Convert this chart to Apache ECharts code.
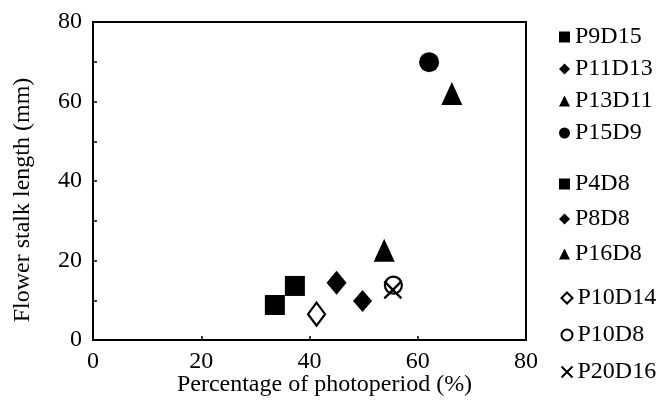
<!DOCTYPE html>
<html>
<head>
<meta charset="utf-8">
<script src="https://cdn.jsdelivr.net/npm/echarts@6/dist/echarts.min.js"></script>
<style>
  html, body { margin: 0; padding: 0; background: #fff; }
  #chart { width: 657px; height: 400px; }
</style>
</head>
<body>
<div id="chart"></div>
<script>
// treatments (photoperiod / dark period)
var names = ['P9D15', 'P11D13', 'P13D11', 'P15D9', 'P4D8', 'P8D8', 'P16D8', 'P10D14', 'P10D8', 'P20D16']
var photoperiodPct = [37.3, 45.0, 53.8, 62.1, 33.6, 49.8, 66.3, 41.3, 55.5, 55.4]
var stalkLength = [13.6, 14.4, 22.6, 69.9, 8.8, 9.8, 62.0, 6.5, 13.8, 12.6]
var xTicks = [0, 20, 40, 60, 80]
var yTicks = [0, 20, 40, 60, 80]

var font = 'Liberation Serif'
var cross = 'path://M0,0L10,10M10,0L0,10'

// marker look for each treatment
var markers = {
  P9D15: { symbol: 'rect', size: 20 },
  P11D13: { symbol: 'diamond', size: [20, 24] },
  P13D11: { symbol: 'triangle', size: [21, 23] },
  P15D9: { symbol: 'circle', size: 20 },
  P4D8: { symbol: 'rect', size: 20 },
  P8D8: { symbol: 'diamond', size: [19, 22] },
  P16D8: { symbol: 'triangle', size: [21, 23] },
  P10D14: { symbol: 'diamond', size: [17, 23], hollow: true },
  P10D8: { symbol: 'circle', size: 17, hollow: true },
  P20D16: { symbol: cross, size: 17, line: true }
}

var series = names.map(function (n, i) {
  var m = markers[n]
  var style = { color: '#000', opacity: 1 }
  if (m.hollow) style = { color: '#fff', borderColor: '#000', borderWidth: 2.2, opacity: 1 }
  if (m.line) style = { color: 'none', borderColor: '#000', borderWidth: 2.4, opacity: 1 }
  return {
    name: n,
    type: 'scatter',
    symbol: m.symbol,
    symbolSize: m.size,
    itemStyle: style,
    z: m.line ? 3 : 2,
    data: [[photoperiodPct[i], stalkLength[i]]]
  }
})

var legendBase = {
  orient: 'vertical',
  left: 559,
  itemWidth: 11,
  itemHeight: 11,
  textStyle: { fontFamily: font, fontSize: 24, color: '#000', lineHeight: 24 },
  padding: 0,
  selectedMode: false
}

var option = {
  animation: false,
  backgroundColor: '#fff',
  textStyle: { fontFamily: font },
  grid: {
    left: 93, right: 131, top: 22, bottom: 60,
    outerBoundsMode: 'none',
    show: true, borderColor: '#000', borderWidth: 2, backgroundColor: 'transparent'
  },
  legend: [
    Object.assign({}, legendBase, { top: 25, itemGap: 8, data: names.slice(0, 4) }),
    Object.assign({}, legendBase, { top: 172, itemGap: 11, data: names.slice(4, 7) }),
    Object.assign({}, legendBase, { top: 286, itemGap: 13, data: names.slice(7) })
  ],
  xAxis: {
    type: 'value',
    min: xTicks[0],
    max: xTicks[xTicks.length - 1],
    interval: xTicks[1] - xTicks[0],
    name: 'Percentage of photoperiod (%)',
    nameLocation: 'middle',
    nameGap: 33,
    nameMoveOverlap: false,
    nameTextStyle: { fontFamily: font, fontSize: 24, color: '#000', padding: [0, 0, 0, 30] },
    axisLine: { show: true, lineStyle: { color: '#000', width: 2 } },
    axisTick: { show: true, inside: true, length: 4, lineStyle: { color: '#000', width: 1.5 } },
    axisLabel: { fontFamily: font, fontSize: 24, color: '#000', margin: 10 },
    splitLine: { show: false }
  },
  yAxis: {
    type: 'value',
    min: yTicks[0],
    max: yTicks[yTicks.length - 1],
    interval: yTicks[1] - yTicks[0],
    name: 'Flower stalk length (mm)',
    nameLocation: 'middle',
    nameRotate: 90,
    nameGap: 58,
    nameMoveOverlap: false,
    nameTextStyle: { fontFamily: font, fontSize: 24, color: '#000', padding: [0, 38, 0, 0] },
    axisLine: { show: true, lineStyle: { color: '#000', width: 2 } },
    axisTick: { show: true, inside: true, length: 4, lineStyle: { color: '#000', width: 1.5 } },
    minorTick: { show: true, splitNumber: 2, length: 4, lineStyle: { color: '#000', width: 1.5 } },
    axisLabel: { fontFamily: font, fontSize: 24, color: '#000', margin: 11 },
    splitLine: { show: false }
  },
  series: series
}

var myChart = echarts.init(document.getElementById('chart'))
myChart.setOption(option)
</script>
</body>
</html>
